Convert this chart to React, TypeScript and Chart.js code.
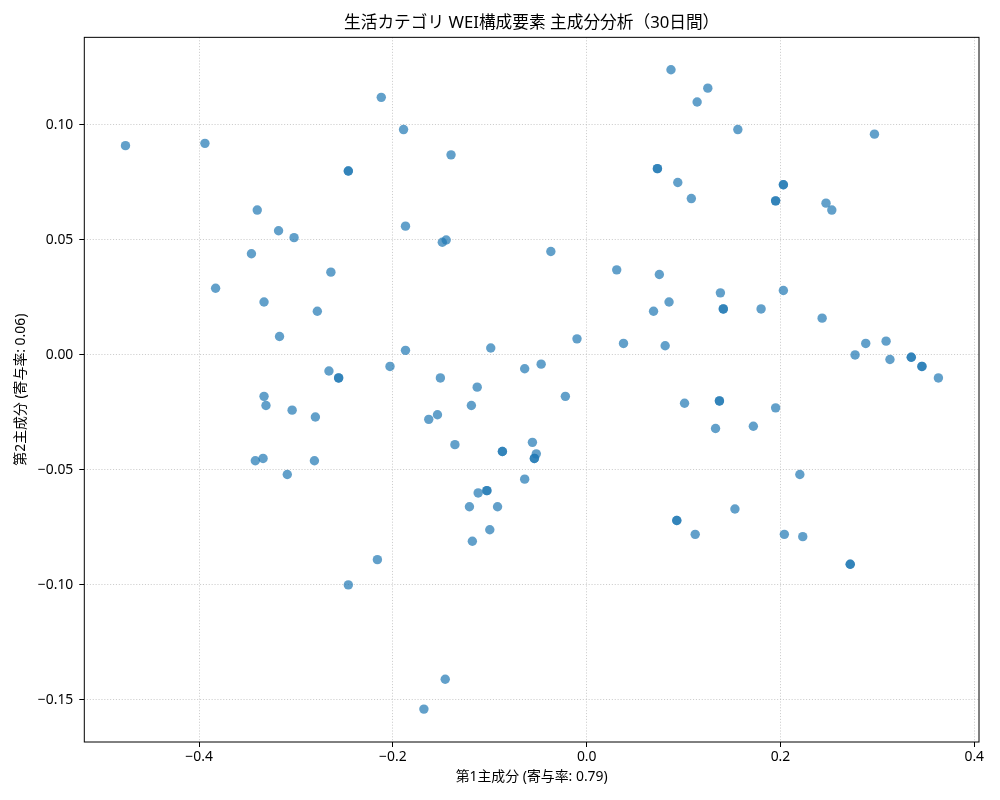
import { useEffect, useRef } from 'react';
import { Chart, registerables } from 'chart.js';

Chart.register(...registerables);

const FONT = '"Noto Sans", "Noto Sans CJK JP", sans-serif';

const chartTitle = '生活カテゴリ WEI構成要素 主成分分析（30日間）';
const xTitle = '第1主成分 (寄与率: 0.79)';
const yTitle = '第2主成分 (寄与率: 0.06)';

// 第1主成分 scores (one per day / category entry)
const pc1 = [
  -0.476, -0.394, -0.212, -0.189, -0.140, -0.246, -0.246, -0.340, -0.318, -0.302,
  -0.346, -0.187, -0.149, -0.145, -0.264, -0.383, -0.333, -0.278, -0.317, -0.187,
  -0.099, -0.266, -0.256, -0.256, -0.203, -0.151, -0.113, -0.333, -0.331, -0.304,
  -0.280, -0.119, -0.163, -0.154, -0.136, -0.342, -0.334, -0.281, -0.309, -0.103,
  -0.103, -0.112, -0.121, -0.092, -0.100, -0.118, -0.216, -0.246, -0.146, -0.168,
  -0.087, -0.087, 0.087, 0.125, 0.114, 0.156, 0.297, 0.073, 0.073, 0.094,
  0.108, 0.203, 0.203, 0.195, 0.195, 0.247, 0.253, -0.037, 0.031, 0.075,
  0.138, 0.085, 0.069, 0.141, 0.141, 0.180, 0.203, 0.243, -0.010, 0.038,
  0.081, 0.277, 0.288, 0.309, 0.313, 0.335, 0.335, 0.346, 0.346, 0.363,
  -0.064, -0.047, -0.022, 0.101, 0.137, 0.137, 0.195, 0.133, 0.172, -0.056,
  -0.052, -0.054, -0.054, -0.064, 0.220, 0.153, 0.093, 0.093, 0.112, 0.204,
  0.223, 0.272, 0.272,
];

// 第2主成分 scores, same order as pc1
const pc2 = [
  0.091, 0.092, 0.112, 0.098, 0.087, 0.080, 0.080, 0.063, 0.054, 0.051,
  0.044, 0.056, 0.049, 0.050, 0.036, 0.029, 0.023, 0.019, 0.008, 0.002,
  0.003, -0.007, -0.010, -0.010, -0.005, -0.010, -0.014, -0.018, -0.022, -0.024,
  -0.027, -0.022, -0.028, -0.026, -0.039, -0.046, -0.045, -0.046, -0.052, -0.059,
  -0.059, -0.060, -0.066, -0.066, -0.076, -0.081, -0.089, -0.100, -0.141, -0.154,
  -0.042, -0.042, 0.124, 0.116, 0.110, 0.098, 0.096, 0.081, 0.081, 0.075,
  0.068, 0.074, 0.074, 0.067, 0.067, 0.066, 0.063, 0.045, 0.037, 0.035,
  0.027, 0.023, 0.019, 0.020, 0.020, 0.020, 0.028, 0.016, 0.007, 0.005,
  0.004, 0.000, 0.005, 0.006, -0.002, -0.001, -0.001, -0.005, -0.005, -0.010,
  -0.006, -0.004, -0.018, -0.021, -0.020, -0.020, -0.023, -0.032, -0.031, -0.038,
  -0.043, -0.045, -0.045, -0.054, -0.052, -0.067, -0.072, -0.072, -0.078, -0.078,
  -0.079, -0.091, -0.091,
];

const xRange = [-0.5185, 0.4049];
const yRange = [-0.1683, 0.1381];

const minus = (s: string) => s.replace('-', '\u2212');

// draw the full axes box like matplotlib spines
const frame = {
  id: 'frame',
  afterDraw(chart: Chart) {
    const { ctx, chartArea: a } = chart;
    ctx.save();
    ctx.strokeStyle = '#000';
    ctx.lineWidth = 1;
    ctx.strokeRect(a.left, a.top, a.right - a.left, a.bottom - a.top);
    ctx.restore();
  },
};

export default function App() {
  const canvasRef = useRef<HTMLCanvasElement>(null);

  useEffect(() => {
    if (!canvasRef.current) return;
    const ctx = canvasRef.current.getContext('2d');
    if (!ctx) return;

    const points = pc1.map((x, i) => ({ x, y: pc2[i] }));

    const gridOpts = {
      color: 'rgba(176,176,176,0.8)',
      lineWidth: 0.8,
      drawTicks: true,
      tickLength: 5,
      tickColor: '#000',
      tickWidth: 1,
      tickBorderDash: [],
    };

    const chart = new Chart(ctx, {
      type: 'scatter',
      data: {
        datasets: [
          {
            data: points,
            backgroundColor: 'rgba(31,119,180,0.7)',
            borderWidth: 0,
            pointRadius: 4.7,
            pointHoverRadius: 4.7,
          },
        ],
      },
      plugins: [frame],
      options: {
        animation: false,
        responsive: false,
        devicePixelRatio: 1,
        layout: { padding: { left: 0, right: 21, top: 0, bottom: 0 } },
        plugins: {
          legend: { display: false },
          tooltip: { enabled: false },
          title: {
            display: true,
            fullSize: false,
            text: chartTitle,
            color: '#000',
            font: { family: FONT, size: 16.7, weight: 'normal', lineHeight: 1.2 },
            padding: { top: 13, bottom: 4.3 },
          },
        },
        scales: {
          x: {
            type: 'linear',
            min: xRange[0],
            max: xRange[1],
            afterFit: (scale: any) => {
              scale.height = 58;
            },
            grid: gridOpts,
            border: { display: false, dash: [1.1, 1.8] },
            ticks: {
              stepSize: 0.2,
              includeBounds: false,
              padding: 2,
              color: '#000',
              font: { family: FONT, size: 13.9 },
              callback: (v: any) => minus(Number(v).toFixed(1)),
            },
            title: {
              display: true,
              text: xTitle,
              color: '#000',
              font: { family: FONT, size: 13.9, lineHeight: 1.2 },
              padding: { top: 0, bottom: 14.6 },
            },
          },
          y: {
            type: 'linear',
            min: yRange[0],
            max: yRange[1],
            afterFit: (scale: any) => {
              scale.width = 84.3;
            },
            grid: gridOpts,
            border: { display: false, dash: [1.1, 1.8] },
            ticks: {
              stepSize: 0.05,
              includeBounds: false,
              padding: 6,
              color: '#000',
              font: { family: FONT, size: 13.9 },
              callback: (v: any) => minus(Number(v).toFixed(2)),
            },
            title: {
              display: true,
              text: yTitle,
              color: '#000',
              font: { family: FONT, size: 13.9, lineHeight: 1.2 },
              padding: { top: 12.7, bottom: 0 },
            },
          },
        },
      },
    });

    return () => {
      chart.destroy();
    };
  }, []);

  return (
    <div style={{ position: 'absolute', left: 0, top: 0, width: 1000, height: 800, background: '#fff' }}>
      <canvas ref={canvasRef} width={1000} height={800}></canvas>
    </div>
  );
}
